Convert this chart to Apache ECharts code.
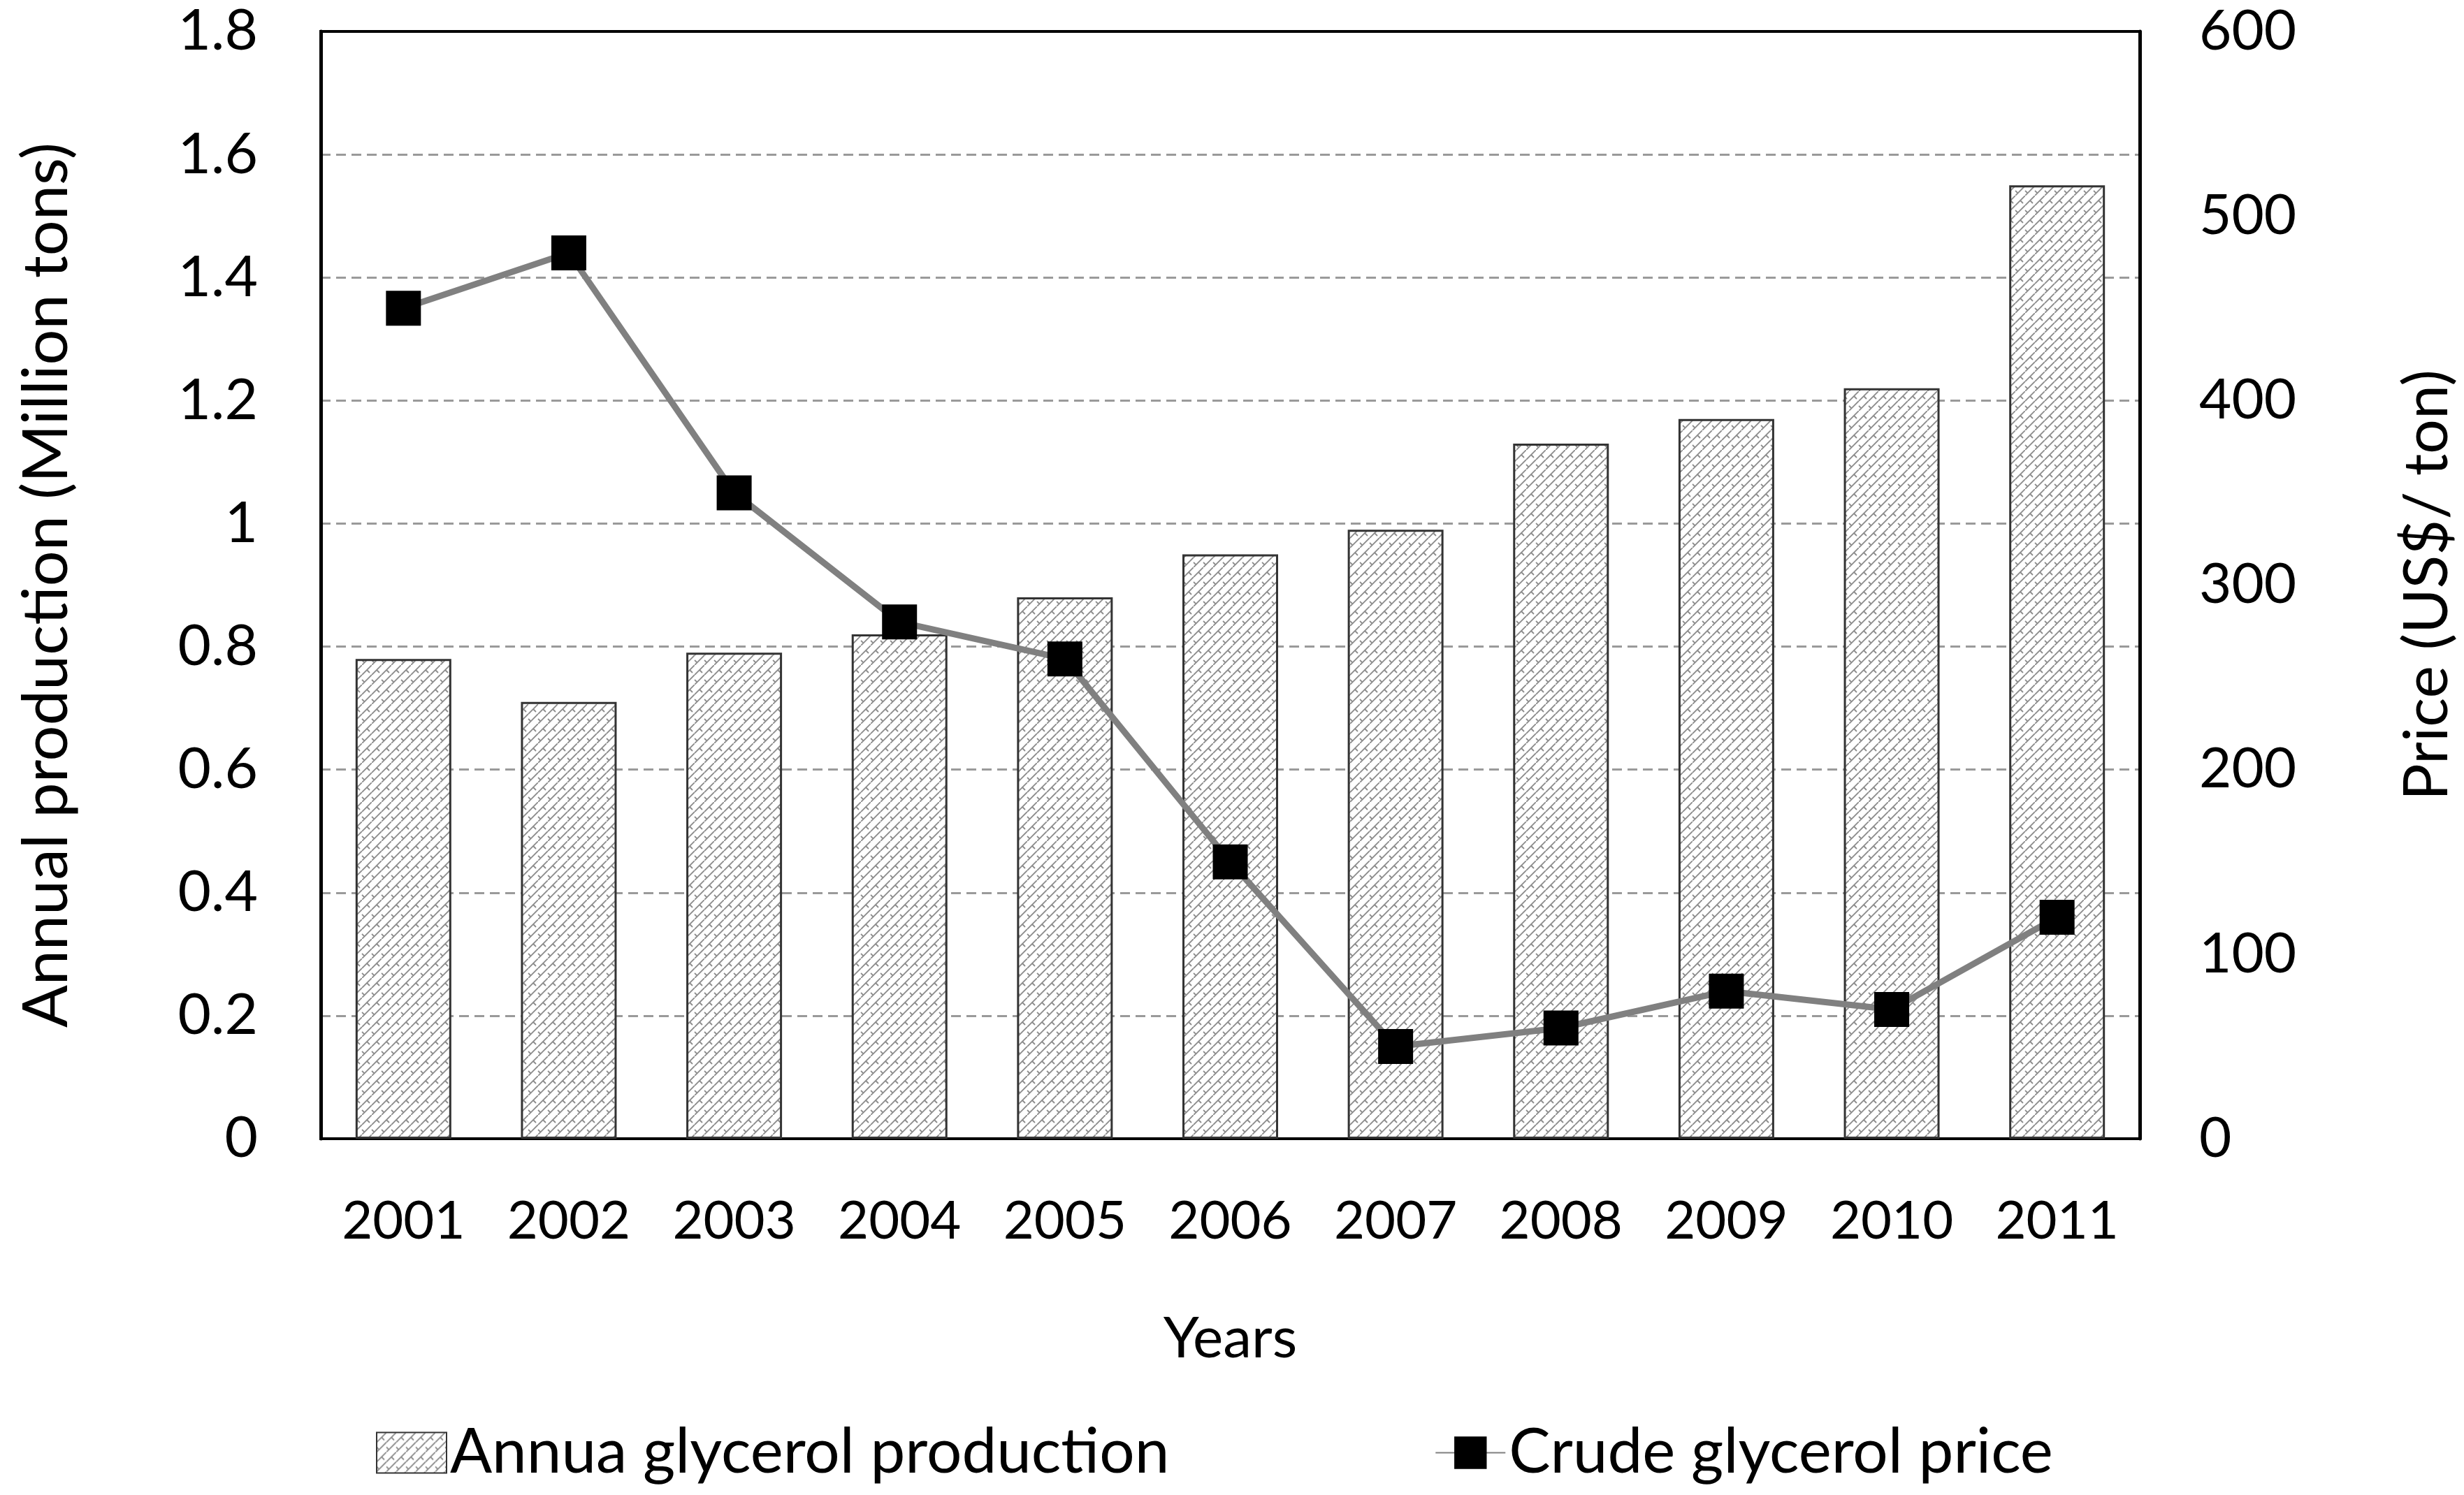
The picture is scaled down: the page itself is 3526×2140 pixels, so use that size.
<!DOCTYPE html>
<html>
<head>
<meta charset="utf-8">
<script src="https://cdn.jsdelivr.net/npm/echarts@6/dist/echarts.min.js"></script>
<style>
  html, body { margin: 0; padding: 0; background: #fff; }
  #chart { width: 3526px; height: 2140px; }
</style>
</head>
<body>
<div id="chart"></div>
<script>
var years = ['2001', '2002', '2003', '2004', '2005', '2006', '2007', '2008', '2009', '2010', '2011'];
// million tons
var production = [0.78, 0.71, 0.79, 0.82, 0.88, 0.95, 0.99, 1.13, 1.17, 1.22, 1.55];
// US$/ton
var price = [450, 480, 350, 280, 260, 150, 50, 60, 80, 70, 120];

// shingle-like hatch for the bars
function makeHatch() {
    var c = document.createElement('canvas');
    c.width = 14;
    c.height = 28;
    var ctx = c.getContext('2d');
    ctx.fillStyle = '#fff';
    ctx.fillRect(0, 0, 14, 28);
    ctx.strokeStyle = '#8c8c8c';
    ctx.lineWidth = 1.8;
    ctx.beginPath();
    // "/" lines
    ctx.moveTo(0, 14); ctx.lineTo(14, 0);
    ctx.moveTo(0, 28); ctx.lineTo(14, 14);
    // short "\" ticks
    ctx.moveTo(7, 7); ctx.lineTo(11, 11);
    ctx.moveTo(0, 21); ctx.lineTo(4, 25);
    ctx.moveTo(14, 21); ctx.lineTo(18, 25);
    ctx.stroke();
    return c;
}

var myChart = echarts.init(document.getElementById('chart'));
var font = 'Lato';

var option = {
    animation: false,
    textStyle: { fontFamily: font, color: '#000' },
    grid: {
        left: 459, right: 463, top: 45, bottom: 510,
        show: true, borderColor: '#000', borderWidth: 4
    },
    legend: {
        left: 533,
        top: 2030,
        itemGap: 380,
        itemWidth: 100,
        itemHeight: 58,
        textStyle: { fontSize: 89, fontFamily: font, color: '#000' },
        data: [
            { name: 'Annua glycerol production', icon: 'rect' },
            { name: 'Crude glycerol price' }
        ]
    },
    xAxis: {
        type: 'category',
        data: years,
        name: 'Years',
        nameLocation: 'middle',
        nameGap: 246,
        nameTextStyle: { fontSize: 82, fontFamily: font, color: '#000' },
        axisLine: { lineStyle: { color: '#000', width: 4 } },
        axisTick: { show: false },
        axisLabel: { fontSize: 76, margin: 80, color: '#000', fontFamily: font }
    },
    yAxis: [
        {
            type: 'value',
            min: 0, max: 1.8, interval: 0.2,
            name: 'Annual production (Million tons)',
            nameLocation: 'middle',
            nameRotate: 90,
            nameGap: 347,
            nameTextStyle: { fontSize: 90, fontFamily: font, color: '#000' },
            axisLine: { show: true, lineStyle: { color: '#000', width: 5 } },
            axisTick: { show: false },
            axisLabel: { fontSize: 82, margin: 90, color: '#000', fontFamily: font },
            splitLine: {
                showMinLine: false,
                showMaxLine: false,
                lineStyle: { color: '#9a9a9a', width: 3, type: [14, 8] }
            }
        },
        {
            type: 'value',
            min: 0, max: 600, interval: 100,
            name: 'Price (US$/ ton)',
            nameLocation: 'middle',
            nameRotate: 90,
            nameGap: 368,
            nameTextStyle: { fontSize: 88, fontFamily: font, color: '#000' },
            axisLine: { show: true, lineStyle: { color: '#000', width: 5 } },
            axisTick: { show: false },
            axisLabel: { fontSize: 80, margin: 85, color: '#000', fontFamily: font },
            splitLine: { show: false }
        }
    ],
    series: [
        {
            name: 'Annua glycerol production',
            type: 'bar',
            data: production,
            barWidth: 137,
            itemStyle: {
                color: { image: makeHatch(), repeat: 'repeat' },
                borderColor: '#333',
                borderWidth: 3
            }
        },
        {
            name: 'Crude glycerol price',
            type: 'line',
            yAxisIndex: 1,
            data: price,
            symbol: 'rect',
            symbolSize: 50,
            z: 5,
            lineStyle: { color: '#808080', width: 9 },
            itemStyle: { color: '#000' }
        }
    ]
};

myChart.setOption(option);
window.addEventListener('resize', function () {
    myChart.resize();
});
</script>
</body>
</html>
